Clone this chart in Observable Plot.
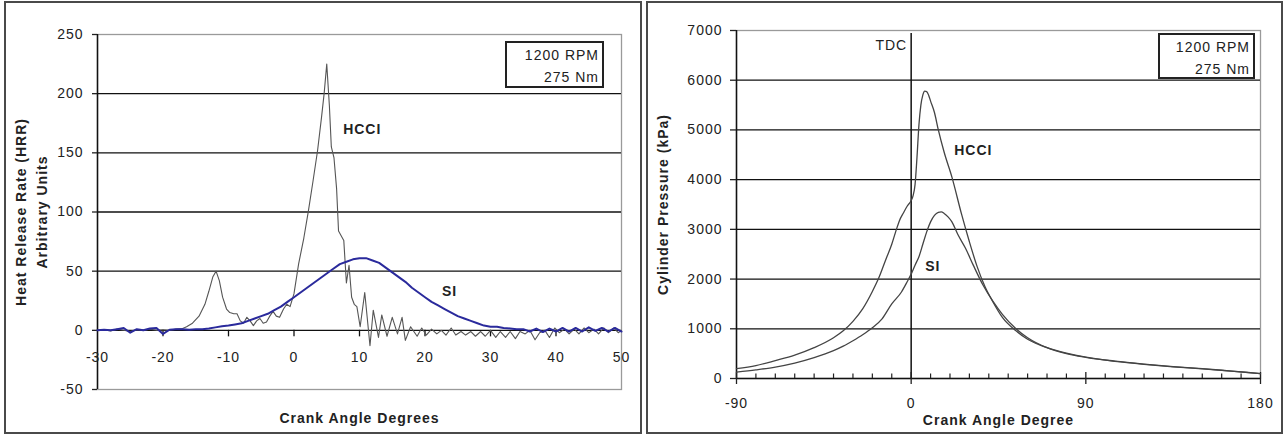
<!DOCTYPE html>
<html>
<head>
<meta charset="utf-8">
<script src="https://cdn.jsdelivr.net/npm/d3@7"></script>
<script src="https://cdn.jsdelivr.net/npm/@observablehq/plot@0.6"></script>
<style>
  body { margin: 0; background: #fff; }
  #wrap { position: relative; width: 1285px; height: 437px; font-family: "Liberation Sans", Arial, sans-serif; }
  .panel { position: absolute; border: 2px solid #4a4a4a; box-sizing: border-box; }
  .chart { position: absolute; top: 0; }
  .chart svg text { letter-spacing: 1px; }
  .note { position: absolute; border: 2px solid #222; box-sizing: border-box; font-size: 14px; line-height: 22px;
          text-align: right; padding: 1px 3px 0 0; letter-spacing: 1px; color: #222; background: #fff; }
</style>
</head>
<body>
<div id="wrap">
  <div class="panel" style="left:4px;top:1px;width:638px;height:433px"></div>
  <div class="panel" style="left:646px;top:1px;width:637px;height:433px"></div>
  <div class="chart" id="hrr" style="left:0"></div>
  <div class="chart" id="pressure" style="left:640px"></div>
  <div class="note" style="left:505px;top:41px;width:99px;height:47px">1200 RPM<br>275 Nm</div>
  <div class="note" style="left:1158px;top:33px;width:97px;height:46px">1200 RPM<br>275 Nm</div>
</div>
<script>
// ---- Heat release rate (arbitrary units) vs crank angle ----
const hcciHrrAngle = [-30,-29,-28,-27,-26,-25,-24,-23,-22,-21,-20,-19,-18,-17,-16.4,-15.5,-14.5,-13.6,-13,-12.4,-11.9,-11.4,-10.9,-10.3,-9.8,-9.2,-8.7,-8.2,-7.7,-7.2,-6.7,-6.2,-5.7,-5.2,-4.7,-4.2,-3.7,-3.2,-2.7,-2.2,-1.6,-1.1,-0.6,0,0.7,1.5,2.2,2.9,3.6,4.2,4.6,5.0,5.4,5.7,6.1,6.5,6.8,7.2,7.6,8.0,8.4,8.8,9.2,9.6,10.1,10.8,11.6,12.1,12.9,13.4,14.2,15.0,15.8,16.5,17.0,17.8,18.8,19.5,20.2,21,21.8,22.5,23.2,24,24.7,25.5,26.2,27,27.7,28.5,29.2,30,30.8,31.5,32.3,33,33.8,34.5,35.3,36,36.8,37.5,38.3,39,39.8,40.5,41.3,42,42.8,43.5,44.3,45,45.8,46.5,47.3,48,48.8,49.5,50];
const hcciHrr = [0,0.5,-0.5,1,0,-1,0.5,0,1,0,0.5,0,1,1.5,3,6,12,22,33,45,50,42,28,18,15,14,14,8,6,11,8,4,8,10,6,7,12,16,12,11,18,22,20,31,56,78,101,126,152,180,200,225,190,155,146,120,84,80,76,40,55,28,22,20,3,32,-13,17,-6,13,-5,11,-3,11,-8.5,3,-5,2,-4,1,-3,0,-4,2,-4,-1,-4,-1,-5,-1,-5,0,-6,-1,-6,-1,-7,-1,-3,0,-8,-2,0,-6,2,-2,1,-3,1,-3,2,-2,1,-3,2,-2,2,-2,0];

const siHrrAngle = [-30,-29,-28,-27,-26,-25,-24,-23,-22,-21,-20,-19,-18,-17,-16,-15,-14,-13,-12,-11,-10,-9,-8,-7,-6,-5,-4,-3,-2,-1,0,1,2,3,4,5,6,7,8,9,10,11,12,13,14,15,16,17,18,19,20,21,22,23,24,25,26,27,28,29,30,31,32,33,34,35,36,37,38,39,40,41,42,43,44,45,46,47,48,49,50];
const siHrr = [0,0.5,0,1,2,-2,1,0,1.5,2,-3,0.5,1,1,0.5,1,1,1.5,2.5,3.5,4,5,6,8,10,12,14,17,20,24,28,32,36,40,44,48,52,56,58,60,61,61,59,57,53,49,45,41,36,32,28,24,21,18,15,12,10,8,6,4,3,3,2,1.5,1,1,-1,1.5,-1.5,1.5,-1,2,-1,2,-1,2.5,-0.5,2,-1,2,-1];

const hrrXTicks = [-30,-20,-10,0,10,20,30,40,50];
const hrrYTicks = [-50,0,50,100,150,200,250];
const hrrGrid = [0,50,100,150,200];

// ---- Cylinder pressure (kPa) vs crank angle ----
const hcciPAngle = [-90,-80,-70,-60,-50,-40,-35,-30,-25,-20,-16.5,-13,-10,-8,-6,-4,-2,0,1,2,3,4,5,6,7,8,9,10,12,14,17,21,26,30,34,38,42,47,54,60,70,80,90,105,120,135,150,165,180];
const hcciP = [200,260,360,470,620,820,960,1150,1400,1750,2040,2400,2700,2950,3180,3330,3470,3580,3680,3900,4450,5100,5500,5700,5780,5770,5700,5580,5350,5000,4550,4050,3300,2750,2250,1850,1550,1230,960,790,620,510,430,350,290,240,200,150,100];

const siPAngle = [-90,-80,-70,-60,-50,-40,-35,-30,-25,-20,-15,-10,-5,-2,0,2,4,6,8,10,12,14,15.5,17,19,21,24,28,32,37,42,47,54,60,70,80,90,105,120,135,150,165,180];
const siP = [130,175,230,310,420,560,650,760,880,1020,1200,1500,1740,1950,2100,2280,2450,2700,2950,3150,3280,3340,3350,3320,3250,3150,2900,2620,2280,1880,1560,1290,1000,820,620,500,425,345,285,235,195,150,100];

const pXTicks = [-90,0,90,180];
const pXMinor = d3.range(-80, 180, 10).filter(d => d % 90 !== 0);
const pYTicks = [0,1000,2000,3000,4000,5000,6000,7000];
const pGrid = [1000,2000,3000,4000,5000,6000];

const font = "'Liberation Sans', Arial, sans-serif";
const ink = "#222";
const zip = (xs, ys) => xs.map((x, i) => ({x, y: ys[i]}));

const hrr = Plot.plot({
  width: 640, height: 437,
  marginLeft: 97, marginRight: 19, marginTop: 34, marginBottom: 48,
  style: {background: "transparent", fontFamily: font, fontSize: "14px", color: ink},
  x: {domain: [-30, 50], axis: null},
  y: {domain: [-50, 250], axis: null},
  marks: [
    Plot.frame({stroke: "#9a9a9a", strokeWidth: 1.3}),
    Plot.ruleY(hrrGrid, {stroke: "#111", strokeWidth: 1.3}),
    Plot.ruleX([-30], {stroke: "#111", strokeWidth: 1.5}),
    Plot.axisY({ticks: hrrYTicks, tickSize: 5, tickPadding: 9, tickFormat: d => String(d), label: null, fontSize: 14, strokeWidth: 1.3}),
    Plot.ruleX(hrrXTicks.slice(1, -1), {x: d => d, y1: 0, y2: -5.5, stroke: "#111", strokeWidth: 1.3}),
    Plot.text(hrrXTicks, {x: d => d, y: 0, dy: 27, text: d => String(d), fontSize: 14, fill: ink}),
    Plot.line(zip(hcciHrrAngle, hcciHrr), {x: "x", y: "y", stroke: "#555", strokeWidth: 1.1}),
    Plot.line(zip(siHrrAngle, siHrr), {x: "x", y: "y", stroke: "#2a2a9c", strokeWidth: 2}),
    Plot.text(["HCCI"], {x: 7.5, y: 170, text: d => d, textAnchor: "start", fontWeight: "bold", fontSize: 14, fill: ink}),
    Plot.text(["SI"], {x: 22.6, y: 33, text: d => d, textAnchor: "start", fontWeight: "bold", fontSize: 14, fill: ink}),
    Plot.text(["Heat Release Rate (HRR)\nArbitrary Units"], {frameAnchor: "left", dx: -67.5, rotate: -90, textAnchor: "middle", lineAnchor: "middle", text: d => d, lineHeight: 1.5, fontWeight: "bold", fontSize: 14, fill: ink}),
    Plot.text(["Crank Angle Degrees"], {frameAnchor: "bottom", dy: 29, textAnchor: "middle", lineAnchor: "middle", text: d => d, fontWeight: "bold", fontSize: 14, fill: ink})
  ]
});
document.getElementById("hrr").append(hrr);

const pressure = Plot.plot({
  width: 645, height: 437,
  marginLeft: 96, marginRight: 25, marginTop: 30, marginBottom: 59,
  style: {background: "transparent", fontFamily: font, fontSize: "14px", color: ink},
  x: {domain: [-90, 180], axis: null},
  y: {domain: [0, 7000], axis: null},
  marks: [
    Plot.frame({stroke: "#9a9a9a", strokeWidth: 1.3}),
    Plot.ruleY(pGrid, {stroke: "#111", strokeWidth: 1.3}),
    Plot.ruleY([0], {stroke: "#111", strokeWidth: 1.5}),
    Plot.ruleX([-90], {stroke: "#111", strokeWidth: 1.5}),
    Plot.ruleX([0], {stroke: "#111", strokeWidth: 1.5, insetTop: 3}),
    Plot.axisY({ticks: pYTicks, tickSize: 6, tickPadding: 8, tickFormat: d => String(d), label: null, fontSize: 14, strokeWidth: 1.3}),
    Plot.axisX({ticks: pXMinor, tickSize: -4.5, tickFormat: () => "", label: null, strokeWidth: 1.2}),
    Plot.axisX({ticks: pXTicks, tickSize: 6, tickFormat: () => "", label: null, strokeWidth: 1.3}),
    Plot.axisX({ticks: pXTicks, tickSize: -6, tickFormat: () => "", label: null, strokeWidth: 1.3}),
    Plot.text(pXTicks, {x: d => d, y: 0, dy: 25, text: d => String(d), fontSize: 14, fill: ink}),
    Plot.line(zip(hcciPAngle, hcciP), {x: "x", y: "y", curve: "monotone-x", stroke: "#444", strokeWidth: 1.3}),
    Plot.line(zip(siPAngle, siP), {x: "x", y: "y", curve: "monotone-x", stroke: "#444", strokeWidth: 1.3}),
    Plot.text(["TDC"], {x: 0, y: 6700, dx: -4, text: d => d, textAnchor: "end", fontSize: 14, fill: ink}),
    Plot.text(["HCCI"], {x: 22.2, y: 4590, text: d => d, textAnchor: "start", fontWeight: "bold", fontSize: 14, fill: ink}),
    Plot.text(["SI"], {x: 7.2, y: 2250, text: d => d, textAnchor: "start", fontWeight: "bold", fontSize: 14, fill: ink}),
    Plot.text(["Cylinder Pressure (kPa)"], {frameAnchor: "left", dx: -73, rotate: -90, textAnchor: "middle", lineAnchor: "middle", text: d => d, fontWeight: "bold", fontSize: 14, fill: ink}),
    Plot.text(["Crank Angle Degree"], {frameAnchor: "bottom", dy: 42, textAnchor: "middle", lineAnchor: "middle", text: d => d, fontWeight: "bold", fontSize: 14, fill: ink})
  ]
});
document.getElementById("pressure").append(pressure);
</script>
</body>
</html>
